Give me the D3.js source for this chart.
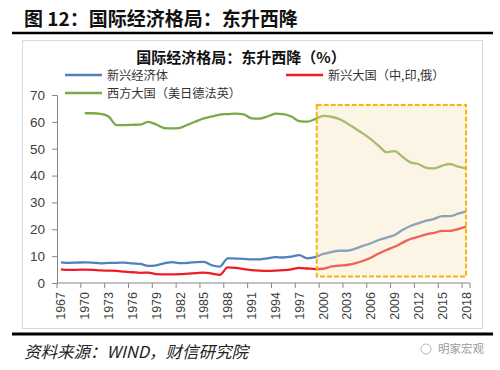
<!DOCTYPE html>
<html>
<head>
<meta charset="utf-8">
<script src="https://cdn.jsdelivr.net/npm/d3@7"></script>
<style>
  body { margin: 0; background: #fff; }
  svg text { font-family: "Noto Sans CJK SC", "Noto Sans", sans-serif; }
</style>
</head>
<body>
<script>
//years on the category axis
var years = d3.range(1967, 2019);

//emerging economies (%)
var emerging = [7.7, 7.5, 7.6, 7.7, 7.6, 7.3, 7.5, 7.5, 7.6, 7.3, 7.1, 6.4, 6.6, 7.3, 7.8, 7.4, 7.5, 7.8, 7.9, 6.6,
    6.1, 9.2, 9.1, 9.0, 8.8, 8.8, 9.2, 9.6, 9.5, 9.8, 10.4, 9.2, 9.6, 10.8, 11.5, 12.0, 12.0, 12.7, 13.8, 14.8,
    16.0, 16.9, 17.9, 19.7, 21.2, 22.2, 23.2, 23.9, 24.9, 24.9, 25.8, 26.7];

//big emerging countries: China, India, Russia (%)
var bigEmerging = [5.1, 4.9, 4.9, 5.0, 4.9, 4.7, 4.6, 4.5, 4.2, 4.0, 3.8, 3.9, 3.3, 3.2, 3.2, 3.3, 3.5, 3.7, 3.9, 3.5,
    3.0, 5.8, 5.6, 5.2, 4.8, 4.6, 4.5, 4.6, 4.8, 5.1, 5.6, 5.4, 5.2, 5.3, 6.1, 6.5, 6.7, 7.3, 8.2, 9.4,
    11.0, 12.3, 13.5, 15.0, 16.4, 17.2, 18.1, 18.7, 19.4, 19.4, 20.1, 21.0];

//western powers: US, Japan, Germany, France, UK (%) - no data before 1970
var western = [null, null, null, 63.2, 63.2, 63.0, 62.0, 58.8, 58.8, 58.9, 59.0, 60.0, 59.0, 57.7, 57.6, 57.8, 59.0, 60.2, 61.3, 62.0,
    62.7, 62.9, 63.1, 62.8, 61.3, 61.2, 62.0, 63.1, 62.9, 62.0, 60.3, 60.1, 61.0, 62.2, 61.9, 61.1, 59.5, 57.6, 55.7, 53.6,
    51.1, 48.7, 49.1, 47.0, 44.9, 44.3, 42.9, 42.7, 43.7, 44.3, 43.3, 42.7];

var yTicks = [0, 10, 20, 30, 40, 50, 60, 70];

//highlighted period (years, %)
var boxYears = [1999.2, 2018],
    boxRange = [2.4, 66.3];

var series = [
    {name: "新兴经济体", values: emerging, color: "#4f81bd"},
    {name: "新兴大国（中,印,俄）", values: bigEmerging, color: "#ee1c25"},
    {name: "西方大国（美日德法英）", values: western, color: "#78ab46"}
];

var width = 500,
    height = 370;

var svg = d3.select("body")
    .append("svg")
    .attr("width", width)
    .attr("height", height);

//page title and rules
svg.append("text")
    .attr("x", 24)
    .attr("y", 26)
    .attr("font-size", 19)
    .attr("font-weight", "bold")
    .attr("fill", "#111")
    .text("图 12：国际经济格局：东升西降");

svg.append("line")
    .attr("x1", 12).attr("x2", 493)
    .attr("y1", 33).attr("y2", 33)
    .attr("stroke", "#000").attr("stroke-width", 2.5);

svg.append("line")
    .attr("x1", 12).attr("x2", 493)
    .attr("y1", 334).attr("y2", 334)
    .attr("stroke", "#000").attr("stroke-width", 3);

//chart frame
svg.append("rect")
    .attr("x", 22.5).attr("y", 40.5)
    .attr("width", 460).attr("height", 288)
    .attr("fill", "#fff")
    .attr("stroke", "#d9d9d9");

svg.append("text")
    .attr("x", 241)
    .attr("y", 63)
    .attr("text-anchor", "middle")
    .attr("font-size", 15)
    .attr("font-weight", "bold")
    .attr("fill", "#111")
    .text("国际经济格局：东升西降（%）");

//scales
var x = d3.scaleBand()
    .domain(years)
    .range([57, 470])
    .padding(0);

var xc = function(yr){ return x(yr) + x.bandwidth() / 2; };

var xl = d3.scaleLinear()
    .domain([1967, 2018])
    .range([xc(1967), xc(2018)]);

var y = d3.scaleLinear()
    .domain([0, 70])
    .range([283, 95]);

//y axis
var yAxis = svg.append("g")
    .attr("transform", "translate(57,0)")
    .call(d3.axisLeft(y).tickValues(yTicks).tickSize(5).tickPadding(7));
yAxis.selectAll("text")
    .attr("font-size", 13.5)
    .attr("fill", "#404040")
    .style("font-family", "'Liberation Sans', Arial, sans-serif");
yAxis.select(".domain").attr("stroke", "#868686");
yAxis.selectAll(".tick line").attr("stroke", "#868686");

//x axis, a tick every three categories
var xAxis = svg.append("g")
    .attr("transform", "translate(0,283)");
xAxis.append("line")
    .attr("x1", 57).attr("x2", 470)
    .attr("stroke", "#868686");
xAxis.selectAll(".tk")
    .data(years.filter(function(d, i){ return i % 3 === 0; }).concat([2019]))
    .enter()
    .append("line")
    .attr("class", "tk")
    .attr("x1", function(d){ return d === 2019 ? 470 : x(d); })
    .attr("x2", function(d){ return d === 2019 ? 470 : x(d); })
    .attr("y1", 0).attr("y2", 5)
    .attr("stroke", "#868686");
xAxis.selectAll(".lb")
    .data(years.filter(function(d, i){ return i % 3 === 0 || d === 2018; }))
    .enter()
    .append("text")
    .attr("class", "lb")
    .attr("transform", function(d){ return "translate(" + (xc(d) + 4.5) + ",9) rotate(-90)"; })
    .attr("text-anchor", "end")
    .attr("font-size", 12.5)
    .attr("fill", "#404040")
    .style("font-family", "'Liberation Sans', Arial, sans-serif")
    .text(function(d){ return d; });

//lines
var line = d3.line()
    .defined(function(d){ return d != null; })
    .x(function(d, i){ return xc(years[i]); })
    .y(function(d){ return y(d); })
    .curve(d3.curveMonotoneX);

svg.selectAll(".series")
    .data(series)
    .enter()
    .append("path")
    .attr("class", "series")
    .attr("d", function(d){ return line(d.values); })
    .attr("fill", "none")
    .attr("stroke", function(d){ return d.color; })
    .attr("stroke-width", 2.3);

//highlight box drawn over the lines
svg.append("rect")
    .attr("x", xl(boxYears[0]))
    .attr("y", y(boxRange[1]))
    .attr("width", xl(boxYears[1]) - xl(boxYears[0]))
    .attr("height", y(boxRange[0]) - y(boxRange[1]))
    .attr("fill", "#f7e2b4")
    .attr("fill-opacity", 0.35)
    .attr("stroke", "#f5b50a")
    .attr("stroke-width", 2)
    .attr("stroke-dasharray", "5,2");

//legend
var legendPos = [[65, 75], [286, 75], [65, 93]];
var legend = svg.selectAll(".legend")
    .data(series)
    .enter()
    .append("g")
    .attr("class", "legend")
    .attr("transform", function(d, i){ return "translate(" + legendPos[i][0] + "," + legendPos[i][1] + ")"; });
legend.append("line")
    .attr("x1", 0).attr("x2", 37)
    .attr("stroke", function(d){ return d.color; })
    .attr("stroke-width", 2.5);
legend.append("text")
    .attr("x", 42)
    .attr("y", 4.5)
    .attr("font-size", 12.2)
    .attr("fill", "#333")
    .text(function(d){ return d.name; });

//source note
svg.append("text")
    .attr("x", 24)
    .attr("y", 358)
    .attr("font-size", 16.5)
    .attr("font-style", "italic")
    .attr("fill", "#222")
    .text("资料来源：WIND，财信研究院");

svg.append("text")
    .attr("x", 438)
    .attr("y", 353)
    .attr("font-size", 11.5)
    .attr("fill", "#9a9a9a")
    .text("明家宏观");
svg.append("circle")
    .attr("cx", 426).attr("cy", 349)
    .attr("r", 5)
    .attr("fill", "none")
    .attr("stroke", "#b8b8b8");
</script>
</body>
</html>
